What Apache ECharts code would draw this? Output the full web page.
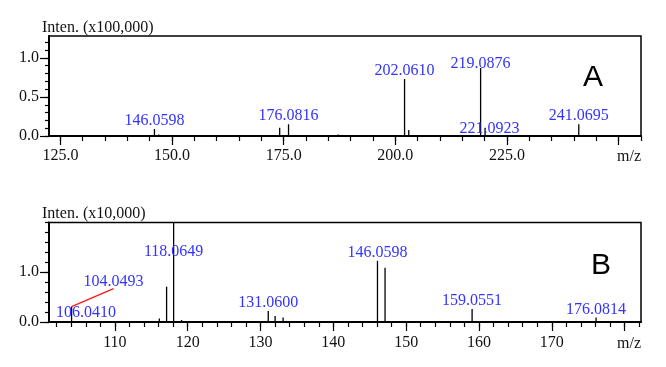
<!DOCTYPE html>
<html><head><meta charset="utf-8">
<script src="https://cdn.jsdelivr.net/npm/echarts@6/dist/echarts.min.js"></script>
<style>html,body{margin:0;padding:0;background:#fff}#c{width:666px;height:367px}</style>
</head><body><div id="c"></div>
<script>
// ---------- Data ----------
const mzA     = [133.0, 146.0598, 147.0, 174.1, 176.0816, 187.2, 202.0610, 203.0, 219.0876, 220.09, 221.0923, 241.0695];
const intA    = [0.012, 0.09, 0.02, 0.105, 0.15, 0.02, 0.73, 0.077, 0.87, 0.105, 0.012, 0.15];
const labelsA = ['', '146.0598', '', '', '176.0816', '', '202.0610', '', '219.0876', '', '221.0923', '241.0695'];

const mzB     = [104.0493, 106.0410, 116.1, 117.1, 118.0649, 119.15, 131.0600, 132.0, 133.1, 146.0598, 147.1, 159.0551, 176.0814];
const intB    = [0.31, 0.02, 0.07, 0.71, 2.4, 0.04, 0.22, 0.12, 0.09, 1.23, 1.09, 0.26, 0.09];
const labelsB = ['104.0493', '106.0410', '', '', '118.0649', '', '131.0600', '', '', '146.0598', '', '159.0551', '176.0814'];

const xMajorA = [125, 150, 175, 200, 225, 250];
const xLabelA = [125, 150, 175, 200, 225];
const xMinorA = [125,130,135,140,145,150,155,160,165,170,175,180,185,190,195,200,205,210,215,220,225,230,235,240,245,250,255];
const yMajorA = [0, 0.5, 1.0];
const yMinorA = [0,0.1,0.2,0.3,0.4,0.5,0.6,0.7,0.8,0.9,1.0,1.1,1.2];

const xMajorB = [110, 120, 130, 140, 150, 160, 170, 180];
const xLabelB = [110, 120, 130, 140, 150, 160, 170];
const xMinorB = [102,104,106,108,110,112,114,116,118,120,122,124,126,128,130,132,134,136,138,140,142,144,146,148,150,152,154,156,158,160,162,164,166,168,170,172,174,176,178,180,182];
const yMajorB = [0, 1.0];
const yMinorB = [0,0.2,0.4,0.6,0.8,1.0,1.2,1.4,1.6,1.8,2.0];

const rangeA = {xmin: 122.45, xmax: 255.0, ymin: 0, ymax: 1.28};
const rangeB = {xmin: 100.95, xmax: 182.25, ymin: 0, ymax: 2.0};

// ---------- Styling ----------
const SERIF = "'Liberation Serif', 'DejaVu Serif', serif";
const AXC = '#111';
const LBLC = '#3333ff';

// special label placements (pixel offsets, styling only)
const labelOffsetsA = {'219.0876': [0, 4], '221.0923': [0, 2]};
const labelOffsetsB = {'118.0649': [0, 37]};
const calloutShift = [42, -18];   // pixel shift of the "104.0493" callout label from its peak top

const chart = echarts.init(document.getElementById('c'), null, {renderer: 'canvas'});

function peakRender(params, api) {
  const x = api.value(0), y = api.value(1);
  const p0 = api.coord([x, 0]);
  const p1 = api.coord([x, y]);
  const top = params.coordSys.y;
  return {
    type: 'line',
    shape: {x1: p0[0], y1: p0[1], x2: p1[0], y2: Math.max(p1[1], top)},
    style: {stroke: '#000', lineWidth: 1.3}
  };
}

// callout: red leader line from peak top to the bottom centre of a shifted label
function calloutRender(params, api) {
  const p = api.coord([api.value(0), api.value(1)]);
  const ex = p[0] + calloutShift[0], ey = p[1] + calloutShift[1];
  return {
    type: 'group',
    children: [
      {type: 'line', shape: {x1: p[0], y1: p[1], x2: ex, y2: ey},
       style: {stroke: '#ff1a1a', lineWidth: 1.4}},
      {type: 'text', x: ex, y: ey + 1,
       style: {text: labelsB[0], fill: LBLC, font: '16px ' + SERIF,
               align: 'center', verticalAlign: 'bottom'}}
    ]
  };
}

function xAxes(gridIndex, r, minor, major, labels, fmt, margin) {
  return [
    {type: 'value', gridIndex, min: r.xmin, max: r.xmax, position: 'bottom',
     axisLine: {show: false}, splitLine: {show: false},
     axisLabel: {show: false},
     axisTick: {show: true, customValues: minor, length: 5, lineStyle: {color: '#000', width: 1.2}}},
    {type: 'value', gridIndex, min: r.xmin, max: r.xmax, position: 'bottom',
     axisLine: {show: true, onZero: false, lineStyle: {color: '#000', width: 2}},
     splitLine: {show: false},
     axisTick: {show: true, customValues: major, length: 9, lineStyle: {color: '#000', width: 1.2}},
     axisLabel: {show: true, customValues: labels, formatter: fmt, margin: margin,
                 color: AXC, fontFamily: SERIF, fontSize: 16},
     name: 'm/z', nameLocation: 'end', nameGap: 0,
     nameTextStyle: {color: AXC, fontFamily: SERIF, fontSize: 16, align: 'right', verticalAlign: 'top', padding: [margin + 1, 0, 0, 0]}}
  ];
}
function yAxes(gridIndex, r, minor, major, fmt) {
  return [
    {type: 'value', gridIndex, min: r.ymin, max: r.ymax, position: 'left',
     axisLine: {show: false}, splitLine: {show: false}, axisLabel: {show: false},
     axisTick: {show: true, customValues: minor, length: 4, lineStyle: {color: '#000', width: 1.2}}},
    {type: 'value', gridIndex, min: r.ymin, max: r.ymax, position: 'left',
     axisLine: {show: true, onZero: false, lineStyle: {color: '#000', width: 2}},
     splitLine: {show: false},
     axisTick: {show: true, customValues: major, length: 9, lineStyle: {color: '#000', width: 1.2}},
     axisLabel: {show: true, customValues: major, formatter: fmt, margin: 10,
                 color: AXC, fontFamily: SERIF, fontSize: 16}}
  ];
}

function labelData(mz, ints, labels, r, offsets, skip) {
  const out = [];
  for (let i = 0; i < mz.length; i++) {
    if (!labels[i] || skip.indexOf(labels[i]) >= 0) continue;
    const item = {value: [mz[i], Math.min(ints[i], r.ymax)], name: labels[i]};
    if (offsets[labels[i]]) item.label = {offset: offsets[labels[i]]};
    out.push(item);
  }
  return out;
}

const fmt1 = v => Number(v).toFixed(1);
const fmt0 = v => String(Math.round(v));

const labelStyle = {show: true, position: 'top', distance: 0, formatter: p => p.name,
  color: LBLC, fontFamily: SERIF, fontSize: 16};

const option = {
  animation: false,
  backgroundColor: '#fff',
  grid: [
    {left: 49, top: 36, width: 592, height: 100, show: true, borderColor: '#000', borderWidth: 1.5, backgroundColor: 'transparent'},
    {left: 49, top: 222.5, width: 592, height: 99.5, show: true, borderColor: '#000', borderWidth: 1.5, backgroundColor: 'transparent'}
  ],
  xAxis: [].concat(
    xAxes(0, rangeA, xMinorA, xMajorA, xLabelA, fmt1, 12),
    xAxes(1, rangeB, xMinorB, xMajorB, xLabelB, fmt0, 13)
  ),
  yAxis: [].concat(
    yAxes(0, rangeA, yMinorA, yMajorA, fmt1),
    yAxes(1, rangeB, yMinorB, yMajorB, fmt1)
  ),
  title: [
    {text: 'Inten. (x100,000)', left: 42, top: 20, padding: 0,
     textStyle: {color: AXC, fontFamily: SERIF, fontSize: 16, fontWeight: 'normal'}},
    {text: 'Inten. (x10,000)', left: 42, top: 206, padding: 0,
     textStyle: {color: AXC, fontFamily: SERIF, fontSize: 16, fontWeight: 'normal'}}
  ],
  graphic: [
    {type: 'text', left: 583, top: 63, style: {text: 'A', fontFamily: "'Liberation Sans', Arial, sans-serif", fontSize: 30, fill: '#000'}},
    {type: 'text', left: 591, top: 251, style: {text: 'B', fontFamily: "'Liberation Sans', Arial, sans-serif", fontSize: 30, fill: '#000'}}
  ],
  series: [
    {type: 'custom', xAxisIndex: 1, yAxisIndex: 1, renderItem: peakRender, silent: true,
     encode: {x: 0, y: 1}, data: mzA.map((m, i) => [m, intA[i]])},
    {type: 'custom', xAxisIndex: 3, yAxisIndex: 3, renderItem: peakRender, silent: true,
     encode: {x: 0, y: 1}, data: mzB.map((m, i) => [m, intB[i]])},
    {type: 'scatter', xAxisIndex: 1, yAxisIndex: 1, symbolSize: 0, silent: true, clip: false,
     itemStyle: {opacity: 1}, label: labelStyle,
     data: labelData(mzA, intA, labelsA, rangeA, labelOffsetsA, [])},
    {type: 'scatter', xAxisIndex: 3, yAxisIndex: 3, symbolSize: 0, silent: true, clip: false,
     itemStyle: {opacity: 1}, label: labelStyle,
     data: labelData(mzB, intB, labelsB, rangeB, labelOffsetsB, ['104.0493'])},
    {type: 'custom', xAxisIndex: 3, yAxisIndex: 3, renderItem: calloutRender, silent: true, clip: false,
     encode: {x: 0, y: 1}, data: [[mzB[0], intB[0]]]}
  ]
};
chart.setOption(option);
</script></body></html>
